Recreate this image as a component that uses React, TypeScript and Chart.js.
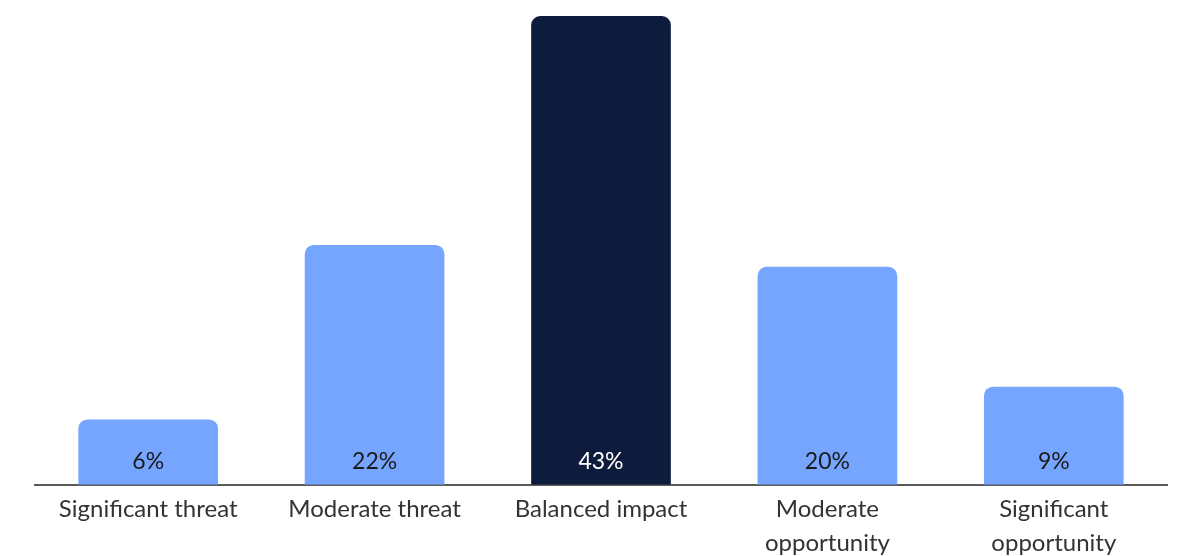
import React, { useEffect, useRef } from "react";
import { Chart, registerables } from "chart.js";

Chart.register(...registerables);

const categories: (string | string[])[] = [
  "Significant threat",
  "Moderate threat",
  "Balanced impact",
  ["Moderate", "opportunity"],
  ["Significant", "opportunity"],
];
const values: number[] = [6, 22, 43, 20, 9];
const barColors: string[] = ["#76A5FF", "#76A5FF", "#0D1C3D", "#76A5FF", "#76A5FF"];
const labelColors: string[] = ["#1A1A1A", "#1A1A1A", "#FFFFFF", "#1A1A1A", "#1A1A1A"];

const FONT = "Lato, 'Noto Sans', sans-serif";

const valueLabelPlugin = {
  id: "valueLabels",
  afterDatasetsDraw(chart: any) {
    const { ctx } = chart;
    const meta = chart.getDatasetMeta(0);
    const yScale = chart.scales.y;
    ctx.save();
    ctx.font = `23px ${FONT}`;
    ctx.textAlign = "center";
    ctx.textBaseline = "middle";
    meta.data.forEach((bar: any, i: number) => {
      ctx.fillStyle = labelColors[i];
      ctx.fillText(`${values[i]}%`, bar.x, yScale.getPixelForValue(0) - 23);
    });
    ctx.restore();
  },
};

export default function App() {
  const ref = useRef<HTMLCanvasElement | null>(null);
  useEffect(() => {
    if (!ref.current) return;
    const chart = new Chart(ref.current, {
      type: "bar",
      data: {
        labels: categories,
        datasets: [
          {
            data: values,
            backgroundColor: barColors,
            borderRadius: { topLeft: 9, topRight: 9, bottomLeft: 0, bottomRight: 0 },
            borderSkipped: "bottom",
            categoryPercentage: 1,
            barPercentage: 0.617,
          },
        ],
      },
      options: {
        animation: false,
        responsive: false,
        maintainAspectRatio: false,
        layout: { padding: { left: 35, right: 12, top: 16, bottom: 0 } },
        plugins: { legend: { display: false }, tooltip: { enabled: false } },
        scales: {
          y: {
            display: false,
            min: 0,
            max: 43,
          },
          x: {
            grid: { display: false, drawTicks: false },
            border: { display: true, color: "#5A5A5A", width: 2 },
            ticks: {
              color: "#333333",
              font: { family: FONT, size: 24, lineHeight: 1.4 },
              padding: 8,
              maxRotation: 0,
              autoSkip: false,
            },
          },
        },
      },
      plugins: [valueLabelPlugin],
    });
    return () => chart.destroy();
  }, []);
  return (
    <div
      style={{
        position: "fixed",
        left: 0,
        top: 0,
        width: 1179,
        height: 556,
        overflow: "hidden",
        background: "#fff",
      }}
    >
      <canvas ref={ref} width={1179} height={568} style={{ width: 1179, height: 568, display: "block" }} />
    </div>
  );
}
